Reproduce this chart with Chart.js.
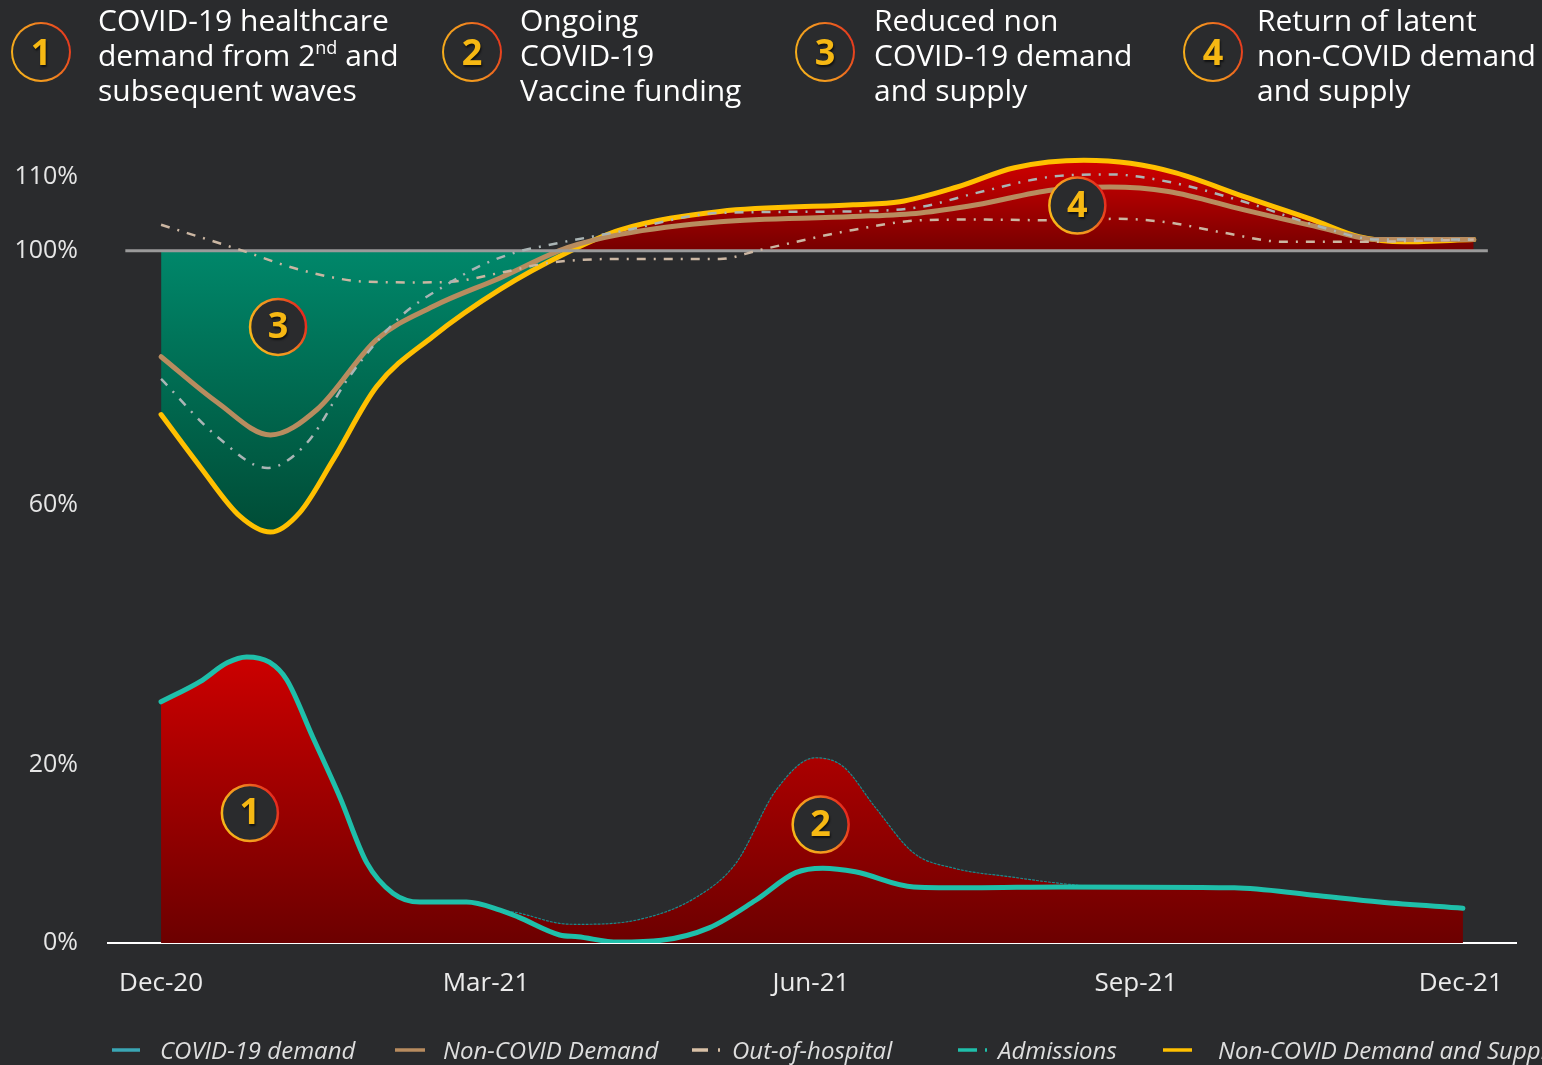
<!DOCTYPE html>
<html>
<head>
<meta charset="utf-8">
<script src="https://cdn.jsdelivr.net/npm/chart.js@4/dist/chart.umd.min.js"></script>
<style>
  html, body { margin: 0; padding: 0; }
  body {
    width: 1542px; height: 1065px; overflow: hidden; position: relative;
    background: #2a2b2d; font-family: "Open Sans", sans-serif; color: #fff;
  }
  #chart { position: absolute; left: 0; top: 0; }
  .circ {
    position: absolute; top: 22px; width: 56px; height: 56px; border-radius: 50%;
    border: 2.5px solid transparent;
    background: linear-gradient(#2a2b2d, #2a2b2d) padding-box,
                linear-gradient(70deg, #f7b81a 0%, #f29020 50%, #e4231e 100%) border-box;
    color: #f6b813; font-weight: 700; font-size: 36px; line-height: 56px; text-align: center;
    text-shadow: 1px 2px 2px rgba(0,0,0,0.6);
  }
  .htxt { position: absolute; top: 2px; font-size: 30px; line-height: 35px; white-space: nowrap; }
  .sup { font-size: 18px; position: relative; top: -12px; line-height: 0; }
  .leg { position: absolute; top: 1034px; height: 32px; font-style: italic; font-size: 24px;
         line-height: 32px; color: #dedede; white-space: nowrap; }
  .leg svg { position: absolute; top: 0; }
</style>
</head>
<body>
<canvas id="chart" width="1542" height="1065"></canvas>

<div class="circ" style="left:11px">1</div>
<div class="htxt" style="left:98px">COVID-19 healthcare<br>demand from 2<span class="sup">nd</span> and<br>subsequent waves</div>
<div class="circ" style="left:442px">2</div>
<div class="htxt" style="left:520px">Ongoing<br>COVID-19<br>Vaccine funding</div>
<div class="circ" style="left:795px">3</div>
<div class="htxt" style="left:874px">Reduced non<br>COVID-19 demand<br>and supply</div>
<div class="circ" style="left:1183px">4</div>
<div class="htxt" style="left:1257px">Return of latent<br>non-COVID demand<br>and supply</div>

<div class="leg" style="left:112px"><svg width="30" height="32"><line x1="0" y1="16" x2="28" y2="16" stroke="#3aa6b4" stroke-width="3.5"/></svg><span style="margin-left:48px">COVID-19 demand</span></div>
<div class="leg" style="left:395px"><svg width="32" height="32"><line x1="0" y1="16" x2="30" y2="16" stroke="#b88c5f" stroke-width="3.5"/></svg><span style="margin-left:48px">Non-COVID Demand</span></div>
<div class="leg" style="left:692px"><svg width="30" height="32"><line x1="0" y1="16" x2="16" y2="16" stroke="#d8c0a6" stroke-width="3.5"/><line x1="26" y1="16" x2="28" y2="16" stroke="#d8c0a6" stroke-width="3.5"/></svg><span style="margin-left:40px">Out-of-hospital</span></div>
<div class="leg" style="left:958px"><svg width="32" height="32"><line x1="0" y1="16" x2="19" y2="16" stroke="#1fbfaa" stroke-width="3.5"/><line x1="27" y1="16" x2="29" y2="16" stroke="#1fbfaa" stroke-width="3.5"/></svg><span style="margin-left:40px">Admissions</span></div>
<div class="leg" style="left:1163px"><svg width="32" height="32"><line x1="0" y1="16" x2="29" y2="16" stroke="#ffc000" stroke-width="3.5"/></svg><span style="margin-left:55px">Non-COVID Demand and Supply</span></div>

<script>
// months counted from Dec-20 (0) to Dec-21 (12)
const xTickMonths = [0, 3, 6, 9, 12];
const xTickLabels = ['Dec-20', 'Mar-21', 'Jun-21', 'Sep-21', 'Dec-21'];
const yTickValues = [0, 20, 60, 100, 110];

// COVID-19 demand (teal line)
const covidX = [0, 0.36, 0.61, 0.79, 1.0, 1.16, 1.40, 1.65, 1.90, 2.14, 2.39, 2.82, 3.13, 3.30, 3.68, 3.85, 4.22, 4.62, 5.06, 5.49, 5.86, 6.11, 6.41, 6.95, 7.50, 8.30, 9.91, 10.62, 11.25, 12.02];
const covidY = [29.7, 32.8, 35.7, 36.6, 35.8, 33.1, 24.3, 16.4, 9.0, 5.6, 4.6, 4.6, 3.7, 2.9, 0.9, 0.7, 0.1, 0.3, 1.7, 4.8, 7.9, 8.4, 8.0, 6.3, 6.2, 6.3, 6.2, 5.4, 4.6, 3.9];

// upper edge of the red COVID area (thin dotted line)
const covidPeakX = [0, 0.36, 0.61, 0.79, 1.0, 1.16, 1.40, 1.65, 1.90, 2.14, 2.39, 2.82, 3.13, 3.29, 3.68, 3.85, 4.40, 4.95, 5.31, 5.68, 6.04, 6.30, 6.59, 6.95, 7.32, 7.86, 8.30, 8.70, 9.91, 10.62, 11.25, 12.02];
const covidPeakY = [29.7, 32.8, 35.7, 36.6, 35.8, 33.1, 24.3, 16.4, 9.0, 5.6, 4.6, 4.6, 3.7, 3.4, 2.2, 2.1, 2.6, 5.2, 9.0, 17.2, 21.1, 19.8, 15.3, 10.1, 8.4, 7.4, 6.7, 6.3, 6.2, 5.4, 4.6, 3.9];

// Non-COVID Demand and Supply (yellow)
const supplyX = [0, 0.36, 0.73, 1.01, 1.28, 1.59, 1.99, 2.51, 3.13, 3.75, 4.24, 5.16, 6.39, 6.82, 7.35, 7.88, 8.52, 8.95, 9.37, 10.0, 10.63, 11.06, 11.48, 12.12];
const supplyY = [74.2, 66.0, 58.2, 55.8, 58.8, 67.1, 78.6, 86.5, 93.9, 99.7, 102.8, 105.3, 106.2, 106.6, 108.6, 111.2, 112.2, 111.8, 110.5, 107.3, 104.2, 101.9, 101.2, 101.5];

// Non-COVID Demand (tan)
const demandX = [0, 0.52, 1.01, 1.44, 1.99, 2.51, 3.13, 3.75, 4.24, 5.16, 6.39, 7.01, 7.53, 8.23, 8.76, 9.30, 10.0, 10.71, 11.23, 12.12];
const demandY = [83.3, 76.1, 71.0, 75.0, 86.0, 91.2, 95.7, 100.4, 102.2, 103.9, 104.6, 105.1, 106.2, 108.2, 108.6, 108.0, 105.5, 103.1, 101.5, 101.5];

// Admissions (grey dash-dot)
const admissionsX = [0, 0.52, 0.98, 1.35, 1.74, 2.21, 2.67, 2.97, 3.29, 3.59, 4.24, 5.16, 6.39, 7.01, 7.53, 8.23, 8.76, 9.30, 10.0, 10.71, 11.23, 12.12];
const admissionsY = [79.8, 70.7, 65.8, 69.8, 80.2, 89.6, 95.0, 97.8, 99.8, 100.8, 102.6, 105.1, 105.3, 105.9, 107.8, 110.0, 110.3, 109.3, 106.6, 103.2, 101.5, 101.5];

// Out-of-hospital (tan dash-dot)
const outHospX = [0, 0.73, 1.28, 1.90, 2.36, 2.67, 3.13, 3.59, 4.24, 5.16, 5.53, 6.39, 7.01, 7.53, 8.23, 8.83, 9.30, 9.82, 10.36, 11.06, 12.12];
const outHospY = [103.5, 100.1, 97.0, 95.1, 95.0, 95.1, 96.5, 98.1, 98.7, 98.7, 100.1, 102.8, 104.1, 104.2, 104.1, 104.3, 103.8, 102.4, 101.2, 101.2, 101.5];

// 100% reference line
const refX = [-0.33, 12.25];
const refY = [100, 100];

// numbered markers
const badgeNums = ['1', '2', '3', '4'];
const badgeX = [0.82, 6.09, 1.08, 8.46];
const badgeY = [14.6, 13.3, 88.0, 106.1];

const pts = (xs, ys) => xs.map((x, i) => ({ x: x, y: ys[i] }));

// y axis is stretched differently between the labelled values
class PiecewiseScale extends Chart.LinearScale {
  static id = 'piecewise';
  static defaults = {};
  toUnits(v) {
    const b = this.options.breaks, w = this.options.weights;
    let acc = 0;
    for (let i = 0; i < w.length; i++) {
      if (v <= b[i + 1] || i === w.length - 1) return acc + (v - b[i]) / (b[i + 1] - b[i]) * w[i];
      acc += w[i];
    }
  }
  getPixelForValue(v) {
    const u0 = this.toUnits(this.min), u1 = this.toUnits(this.max);
    return this.getPixelForDecimal((this.toUnits(v) - u0) / (u1 - u0));
  }
  getValueForPixel(p) {
    const u0 = this.toUnits(this.min), u1 = this.toUnits(this.max);
    const u = u0 + this.getDecimalForPixel(p) * (u1 - u0);
    const b = this.options.breaks, w = this.options.weights;
    let acc = 0;
    for (let i = 0; i < w.length; i++) {
      if (u <= acc + w[i] || i === w.length - 1) return b[i] + (u - acc) / w[i] * (b[i + 1] - b[i]);
      acc += w[i];
    }
  }
}
Chart.register(PiecewiseScale);

const badgePlugin = {
  id: 'badges',
  afterDatasetsDraw(chart) {
    const { ctx, scales: { x, y } } = chart;
    badgeNums.forEach((n, i) => {
      const px = x.getPixelForValue(badgeX[i]);
      const py = y.getPixelForValue(badgeY[i]);
      ctx.save();
      ctx.beginPath();
      ctx.arc(px, py, 28, 0, Math.PI * 2);
      ctx.fillStyle = '#2a2b2d';
      ctx.fill();
      const g = ctx.createLinearGradient(px - 28, py + 12, px + 28, py - 12);
      g.addColorStop(0, '#f7b81a');
      g.addColorStop(0.5, '#f29020');
      g.addColorStop(1, '#e4231e');
      ctx.strokeStyle = g;
      ctx.lineWidth = 2.5;
      ctx.stroke();
      ctx.font = 'bold 36px "Open Sans"';
      ctx.textAlign = 'center';
      ctx.textBaseline = 'middle';
      ctx.shadowColor = 'rgba(0,0,0,0.6)';
      ctx.shadowOffsetX = 1;
      ctx.shadowOffsetY = 2;
      ctx.shadowBlur = 2;
      ctx.fillStyle = '#f6b813';
      ctx.fillText(n, px, py + 1);
      ctx.restore();
    });
  }
};

const line = (extra) => Object.assign({
  pointRadius: 0, fill: false, cubicInterpolationMode: 'monotone', borderCapStyle: 'round'
}, extra);

const chart = new Chart(document.getElementById('chart'), {
  type: 'line',
  data: {
    datasets: [
      line({ label: 'COVID peak', data: pts(covidPeakX, covidPeakY), borderColor: '#1a8a8c', borderWidth: 1.2,
             borderDash: [2, 2], fill: 'origin', backgroundColor: '#a00000', order: 9 }),
      line({ label: 'COVID-19 demand', data: pts(covidX, covidY), borderColor: '#1fbfaa', borderWidth: 5, order: 8 }),
      line({ label: 'Non-COVID Demand and Supply', data: pts(supplyX, supplyY), borderColor: '#ffc000', borderWidth: 5,
             fill: { target: { value: 100 }, above: '#a00000', below: '#007050' }, order: 7 }),
      line({ label: 'Non-COVID Demand', data: pts(demandX, demandY), borderColor: '#b88c5f', borderWidth: 5, order: 6 }),
      line({ label: '100%', data: pts(refX, refY), borderColor: '#9a9a9a', borderWidth: 3, borderCapStyle: 'butt',
             cubicInterpolationMode: 'default', order: 5 }),
      line({ label: 'Out-of-hospital', data: pts(outHospX, outHospY), borderColor: '#cbb6a2', borderWidth: 2.5,
             borderDash: [9, 8, 2, 8], borderCapStyle: 'butt', order: 4 }),
      line({ label: 'Admissions', data: pts(admissionsX, admissionsY), borderColor: '#aab5b5', borderWidth: 2.5,
             borderDash: [9, 8, 2, 8], borderCapStyle: 'butt', order: 3 })
    ]
  },
  options: {
    responsive: false,
    animation: false,
    events: [],
    layout: { padding: { left: 0, right: 26, top: 147, bottom: 62 } },
    plugins: { legend: { display: false }, tooltip: { enabled: false } },
    scales: {
      x: {
        type: 'linear', min: -0.49, max: 12.51,
        grid: { display: false, drawTicks: false },
        border: { display: true, color: '#ffffff', width: 2 },
        afterBuildTicks: (s) => { s.ticks = xTickMonths.map(v => ({ value: v })); },
        afterFit: (s) => { s.height = 60; },
        ticks: {
          padding: 25, color: '#ebebeb', font: { family: 'Open Sans', size: 26 },
          maxRotation: 0, autoSkip: false,
          callback: (v, i) => xTickLabels[i]
        }
      },
      y: {
        type: 'piecewise', min: 0, max: 114,
        breaks: [0, 20, 60, 100, 110],
        weights: [178, 260, 254, 74],
        grid: { display: false, drawTicks: false },
        border: { display: false },
        afterBuildTicks: (s) => { s.ticks = yTickValues.map(v => ({ value: v })); },
        afterFit: (s) => { s.width = 108; },
        ticks: {
          padding: 30, color: '#e6e6e6', font: { family: 'Open Sans', size: 25 }, autoSkip: false,
          callback: (v) => v + '%'
        }
      }
    }
  },
  plugins: [badgePlugin]
});

// gradients need the laid-out scales
function applyGradients(chart) {
  const { ctx, scales: { y } } = chart;
  const base = y.getPixelForValue(0);
  const lowTop = y.getPixelForValue(Math.max(...covidPeakY));
  const redLow = ctx.createLinearGradient(0, lowTop, 0, base);
  redLow.addColorStop(0, '#cc0000');
  redLow.addColorStop(1, '#6c0000');

  const ref = y.getPixelForValue(100);
  const upTop = y.getPixelForValue(Math.max(...supplyY));
  const redUp = ctx.createLinearGradient(0, upTop, 0, ref);
  redUp.addColorStop(0, '#d00000');
  redUp.addColorStop(1, '#760000');

  const greenLow = y.getPixelForValue(Math.min(...supplyY));
  const green = ctx.createLinearGradient(0, ref, 0, greenLow);
  green.addColorStop(0, '#00876a');
  green.addColorStop(1, '#004c36');

  chart.data.datasets[0].backgroundColor = redLow;
  chart.data.datasets[2].fill = { target: { value: 100 }, above: redUp, below: green };
  chart.update('none');
}
applyGradients(chart);
</script>
</body>
</html>
